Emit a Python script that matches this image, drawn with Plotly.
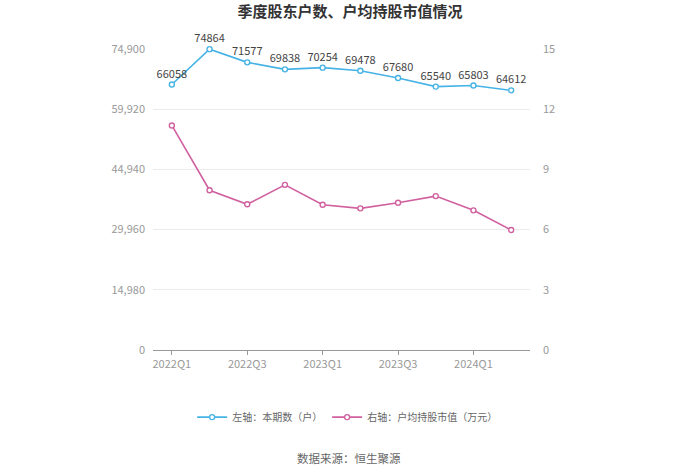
import plotly.graph_objects as go

quarters = ["2022Q1", "2022Q2", "2022Q3", "2022Q4", "2023Q1", "2023Q2",
            "2023Q3", "2023Q4", "2024Q1", "2024Q2"]
holders = [66058, 74864, 71577, 69838, 70254, 69478, 67680, 65540, 65803, 64612]
avg_value = [11.19, 7.96, 7.26, 8.23, 7.24, 7.06, 7.34, 7.67, 6.96, 5.98]
left_ticks = [0, 14980, 29960, 44940, 59920, 74900]
right_ticks = [0, 3, 6, 9, 12, 15]
x_tick_labels = ["2022Q1", "2022Q3", "2023Q1", "2023Q3", "2024Q1"]

FONT = "Noto Sans CJK SC"
BLUE = "#46b3e6"
PINK = "#d0609f"

fig = go.Figure()
fig.add_trace(go.Scatter(
    x=quarters, y=holders, name="左轴：本期数（户）",
    mode="lines+markers+text", text=[str(v) for v in holders],
    textposition="top center", textfont=dict(size=11, color="#444", family=FONT),
    line=dict(color=BLUE, width=1.6),
    marker=dict(symbol="circle", size=5, color="white", line=dict(color=BLUE, width=1.4)),
    cliponaxis=False, yaxis="y"))
fig.add_trace(go.Scatter(
    x=quarters, y=avg_value, name="右轴：户均持股市值（万元）",
    mode="lines+markers",
    line=dict(color=PINK, width=1.6),
    marker=dict(symbol="circle", size=5, color="white", line=dict(color=PINK, width=1.4)),
    cliponaxis=False, yaxis="y2"))

fig.update_layout(
    width=700, height=474,
    margin=dict(l=153, r=170, t=49, b=124),
    paper_bgcolor="white", plot_bgcolor="white",
    font=dict(family=FONT, color="#999", size=11),
    title=dict(text="<b>季度股东户数、户均持股市值情况</b>", x=0.5, xanchor="center",
               y=1 - 12 / 474, yanchor="middle",
               font=dict(size=15, color="#333", family=FONT)),
    xaxis=dict(type="category", tickmode="array", tickvals=x_tick_labels, ticktext=x_tick_labels,
               showgrid=False, showline=True, linecolor="#999", linewidth=1,
               ticks="outside", ticklen=4, tickcolor="#999",
               tickfont=dict(size=11, color="#999"), range=[-0.5, 9.5]),
    yaxis=dict(range=[0, 74900], tickvals=left_ticks, tickformat=",",
               showgrid=True, gridcolor="#ebebeb", zeroline=False,
               showline=False, ticks="", ticklabelstandoff=7,
               tickfont=dict(size=11, color="#999")),
    yaxis2=dict(range=[0, 15], tickvals=right_ticks, overlaying="y", side="right",
                showgrid=False, zeroline=False, showline=False, ticks="",
                ticklabelstandoff=12,
                tickfont=dict(size=11, color="#999")),
    legend=dict(orientation="h", x=0.515, xanchor="center", y=-0.223, yanchor="middle",
                font=dict(size=10, color="#666", family=FONT), itemwidth=30,
                bgcolor="rgba(0,0,0,0)"),
    showlegend=True,
)
fig.add_annotation(text="数据来源：恒生聚源", xref="paper", yref="paper",
                   x=0.52, y=-0.359, showarrow=False, xanchor="center", yanchor="middle",
                   font=dict(size=11.5, color="#666", family=FONT))

fig.write_html("out.html")
